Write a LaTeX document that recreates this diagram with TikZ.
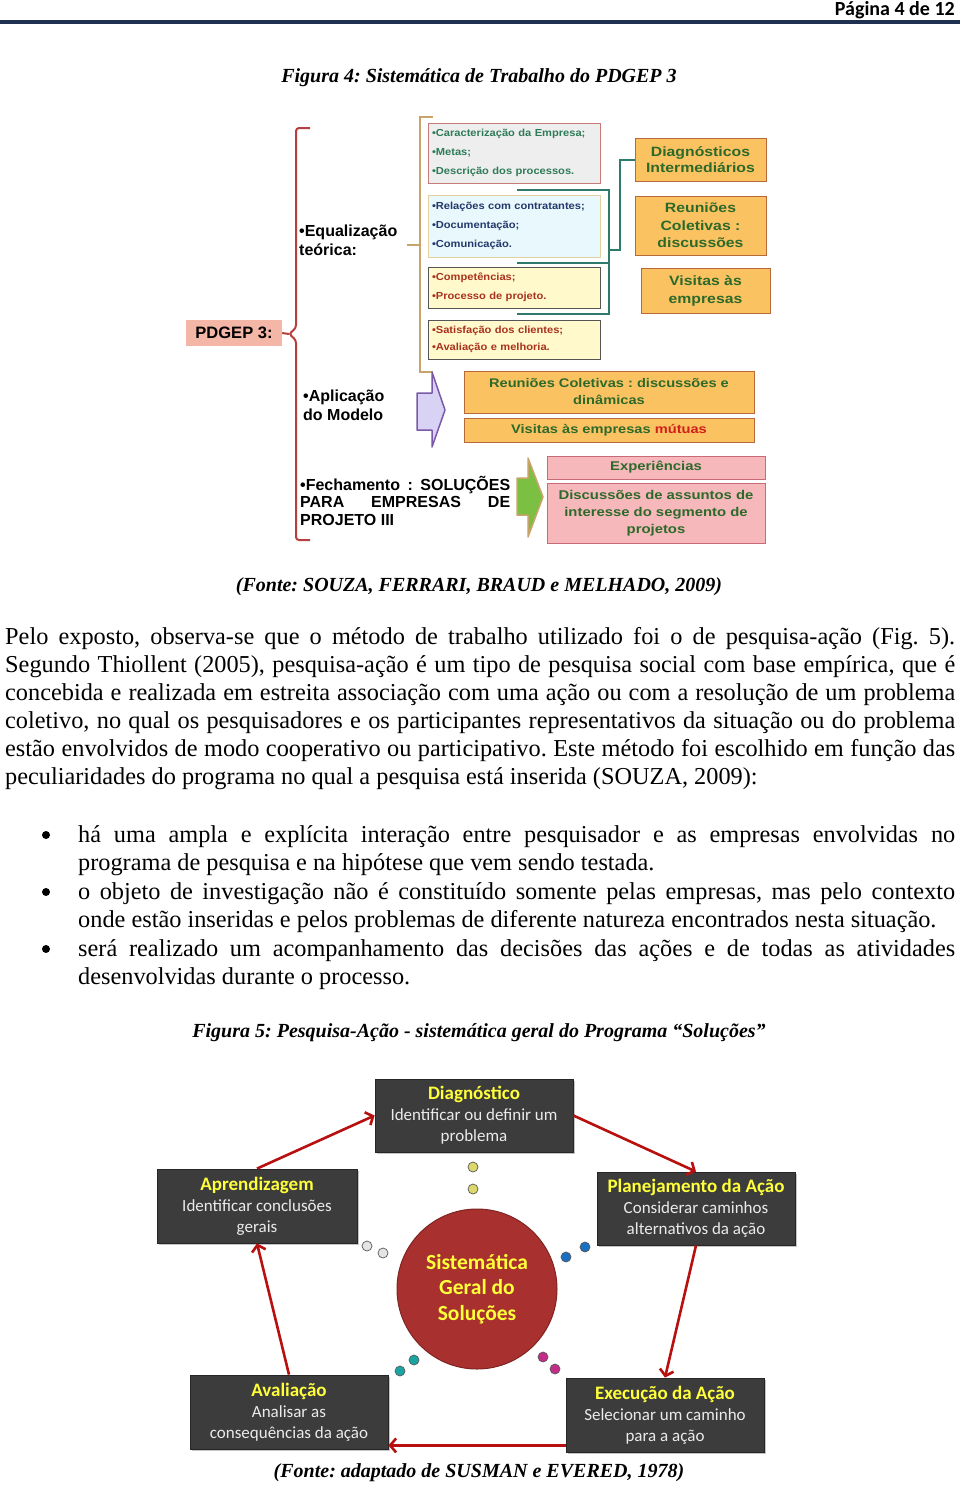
\documentclass[tikz,border=0pt]{standalone}
\usepackage{fontspec}
\setmainfont{Liberation Serif}
\newfontfamily\arialf{Liberation Sans}
\newfontfamily\arialw[FakeStretch=1.17]{Liberation Sans}
\newfontfamily\arials[FakeStretch=1.09]{Liberation Sans}
\newfontfamily\calib{Carlito}
\usetikzlibrary{arrows.meta,calc,shadows}
\newcommand\fs[2]{\fontsize{#1}{#2}\selectfont}
\definecolor{navyline}{HTML}{1F3050}
\definecolor{redbr}{HTML}{B5403F}
\definecolor{tanbr}{HTML}{C9A46A}
\definecolor{tealc}{HTML}{2F7A6C}
\definecolor{boxafill}{HTML}{EEEEEE}
\definecolor{boxadraw}{HTML}{C77B7B}
\definecolor{boxatext}{HTML}{2E7B58}
\definecolor{boxbfill}{HTML}{E8F8FC}
\definecolor{boxbdraw}{HTML}{E0D0A0}
\definecolor{boxbtext}{HTML}{23386B}
\definecolor{yelfill}{HTML}{FFF9CC}
\definecolor{yeldraw}{HTML}{555555}
\definecolor{redtext}{HTML}{A8321E}
\definecolor{orfill}{HTML}{FBC262}
\definecolor{ordraw}{HTML}{B8693A}
\definecolor{gtext}{HTML}{2D6A2A}
\definecolor{mred}{HTML}{D0201A}
\definecolor{pinkfill}{HTML}{F7B8BC}
\definecolor{pinkdraw}{HTML}{C86A78}
\definecolor{salmon}{HTML}{F4B6A6}
\definecolor{lav}{HTML}{D8D2F4}
\definecolor{purp}{HTML}{7A5AA8}
\definecolor{grn}{HTML}{7CC043}
\definecolor{darkbox}{HTML}{3C3C3C}
\definecolor{ytitle}{HTML}{FFFF3A}
\definecolor{arrred}{HTML}{B80F0F}
\definecolor{circ}{HTML}{A8302E}
\definecolor{dotyel}{HTML}{DCD86C}
\definecolor{dotwht}{HTML}{E4E4E4}
\definecolor{dotblu}{HTML}{1B6FC0}
\definecolor{dottea}{HTML}{1AA5A5}
\definecolor{dotmag}{HTML}{C42C8A}
\tikzset{
  capt/.style={inner sep=0pt, font=\bfseries\itshape\fs{20}{24}},
  body/.style={anchor=base west, inner sep=0pt, font=\fs{24.3}{28}},
  bul/.style={circle, fill=black, minimum size=8pt, inner sep=0pt},
  smallbox/.style={draw, line width=0.8pt, minimum width=172pt, text width=164pt, align=left, inner xsep=4pt, inner ysep=0pt, font=\arials\bfseries\fs{10.2}{19}},
  orbox/.style={fill=orfill, draw=ordraw, line width=1pt, text=gtext, align=center, inner sep=0pt, font=\arialw\bfseries\fs{13.5}{17.5}},
  apbox/.style={fill=orfill, draw=ordraw, line width=1pt, text=gtext, align=center, inner sep=0pt, minimum width=290pt, font=\arialw\bfseries\fs{12.5}{17}},
  pkbox/.style={fill=pinkfill, draw=pinkdraw, line width=1pt, text=gtext, align=center, inner sep=0pt, minimum width=218pt, font=\arialw\bfseries\fs{12.7}{17}},
  lbl/.style={inner sep=0pt, align=left, font=\arialf\bfseries\fs{16}{19}},
  dbox/.style={fill=darkbox, draw=black!85, line width=0.8pt, minimum width=198pt, minimum height=73pt, align=center, text=white!92!black, inner sep=0pt, font=\calib\fs{17}{21}, drop shadow={opacity=0.45, shadow xshift=2pt, shadow yshift=-2pt}},
  dot/.style={circle, minimum size=10pt, inner sep=0pt, draw=black!65, line width=0.7pt},
  arr/.style={draw=arrred, line width=2.6pt, -{Straight Barb[length=6pt,width=14pt]}},
}
\newcommand\ttl[1]{{\fs{19}{21}\bfseries\color{ytitle}#1}}
\frenchspacing
\begin{document}
\begin{tikzpicture}[x=1pt,y=-1pt]
\path[use as bounding box, fill=white] (0,0) rectangle (960,1486);
% header
\node[anchor=base east, inner sep=0pt, font=\calib\bfseries\fs{20}{24}] (pg) at (955,15) {Página 4 de 12};
\draw[navyline, line width=3.2pt] (0,22) -- (960,22);
\node[capt] (cap4) at (479,78) {Figura 4: Sistemática de Trabalho do PDGEP 3};

% ===== Figure 4 =====
\coordinate (notch) at (289,334);
\draw[redbr, line width=2pt, rounded corners=3pt] (310,128) -- (296,128) -- (296,328) -- (notch) -- (296,340) -- (296,540) -- (310,540);
\coordinate (tanmid) at (420,245);
\coordinate (tanstub) at (407,245);
\draw[tanbr, line width=2pt] (433,117) -- (420,117) -- (420,372) -- (433,372);
\draw[tanbr, line width=2pt] (tanstub) -- (tanmid);
\draw[tealc, line width=2pt] (517,190) -- (609,190) -- (609,314) -- (517,314);
\draw[tealc, line width=2pt] (517,263) -- (609,263);

\node[fill=salmon, minimum width=96pt, minimum height=26pt, inner sep=0pt, font=\arialf\bfseries\fs{16.5}{20}] (pdgep) at (234,333) {PDGEP 3:};
\draw[redbr, line width=2pt] (pdgep.east) -- (notch);

\node[smallbox, fill=boxafill, draw=boxadraw, minimum height=60pt, text=boxatext] (ba) at (514,153) {•Caracterização da Empresa;\\•Metas;\\•Descrição dos processos.};
\node[smallbox, fill=boxbfill, draw=boxbdraw, minimum height=62pt, text=boxbtext] (bb) at (514,226) {•Relações com contratantes;\\•Documentação;\\•Comunicação.};
\node[smallbox, fill=yelfill, draw=yeldraw, minimum height=41pt, text=redtext] (bc) at (514,287.5) {•Competências;\\•Processo de projeto.};
\node[smallbox, fill=yelfill, draw=yeldraw, minimum height=39pt, text=redtext, font=\arials\bfseries\fs{10.2}{17.5}] (bd) at (514,339.5) {•Satisfação dos clientes;\\•Avaliação e melhoria.};

\node[orbox, minimum width=131pt, minimum height=43pt, font=\arialw\bfseries\fs{13.5}{16.5}] (diag1) at (700.5,159.5) {Diagnósticos\\Intermediários};
\node[orbox, minimum width=131pt, minimum height=59pt] (reun1) at (700.5,225.5) {Reuniões\\Coletivas :\\discussões};
\node[orbox, minimum width=129pt, minimum height=45pt, font=\arialw\bfseries\fs{13.5}{18}] (vis1) at (705.5,290.5) {Visitas às\\empresas};
\draw[tealc, line width=2pt] (609,250) -- (620,250) -- (620,159.5) -- (diag1.west);

\node[lbl, anchor=west] (eq) at (299,240) {•Equalização\\teórica:};
\node[lbl, anchor=west] (ap) at (303,405.5) {•Aplicação\\do Modelo};
\node[lbl, anchor=west, font=\arialf\bfseries\fs{16}{17.5}] (fe) at (300,500.5) {\makebox[210pt][s]{•Fechamento : SOLUÇÕES}\\\makebox[210pt][s]{PARA EMPRESAS DE}\\PROJETO III};

\draw[fill=lav, draw=purp, line width=1.5pt, line join=round] (417,393) -- (432,393) -- (432,372) -- (445,410) -- (432,447) -- (432,430) -- (417,430) -- cycle;
\draw[fill=grn, draw=tanbr, line width=1.5pt, line join=round] (517,478) -- (528,478) -- (528,458) -- (543,497) -- (528,537) -- (528,515) -- (517,515) -- cycle;

\node[apbox, minimum height=42pt] (reun2) at (609,392) {Reuniões Coletivas : discussões e\\dinâmicas};
\node[apbox, minimum height=24pt] (vis2) at (609,430) {Visitas às empresas \textcolor{mred}{mútuas}};
\node[pkbox, minimum height=23pt] (exp) at (656,467.5) {Experiências};
\node[pkbox, minimum height=60pt] (disc) at (656,513) {Discussões de assuntos de\\interesse do segmento de\\projetos};

\node[capt] (fonte4) at (479,587) {(Fonte: SOUZA, FERRARI, BRAUD e MELHADO, 2009)};

% ===== body text =====
\node[body] (p1) at (5,644) {\makebox[950pt][s]{Pelo exposto, observa-se que o método de trabalho utilizado foi o de pesquisa-ação (Fig. 5).}};
\node[body] (p2) at (5,672) {\makebox[950pt][s]{Segundo Thiollent (2005), pesquisa-ação é um tipo de pesquisa social com base empírica, que é}};
\node[body] (p3) at (5,700) {\makebox[950pt][s]{concebida e realizada em estreita associação com uma ação ou com a resolução de um problema}};
\node[body] (p4) at (5,728) {\makebox[950pt][s]{coletivo, no qual os pesquisadores e os participantes representativos da situação ou do problema}};
\node[body] (p5) at (5,756) {\makebox[950pt][s]{estão envolvidos de modo cooperativo ou participativo. Este método foi escolhido em função das}};
\node[body] (p6) at (5,784) {peculiaridades do programa no qual a pesquisa está inserida (SOUZA, 2009):};

\node[bul] (d1) at (46,835) {};
\node[body] (q1) at (78,842) {\makebox[877pt][s]{há uma ampla e explícita interação entre pesquisador e as empresas envolvidas no}};
\node[body] (q2) at (78,870) {programa de pesquisa e na hipótese que vem sendo testada.};
\node[bul] (d2) at (46,892) {};
\node[body] (q3) at (78,899) {\makebox[877pt][s]{o objeto de investigação não é constituído somente pelas empresas, mas pelo contexto}};
\node[body] (q4) at (78,927) {onde estão inseridas e pelos problemas de diferente natureza encontrados nesta situação.};
\node[bul] (d3) at (46,949) {};
\node[body] (q5) at (78,956) {\makebox[877pt][s]{será realizado um acompanhamento das decisões das ações e de todas as atividades}};
\node[body] (q6) at (78,984) {desenvolvidas durante o processo.};

\node[capt] (cap5) at (479,1033) {Figura 5: Pesquisa-Ação - sistemática geral do Programa “Soluções”};

% ===== Figure 5 =====
\node[dbox] (diag) at (474,1115.5) {\ttl{Diagnóstico}\\Identificar ou definir um\\problema};
\node[dbox, minimum width=200pt, minimum height=74pt] (apr) at (257,1206) {\ttl{Aprendizagem}\\Identificar conclusões\\gerais};
\node[dbox] (plan) at (696,1208.5) {\ttl{Planejamento da Ação}\\Considerar caminhos\\alternativos da ação};
\node[dbox, minimum height=74pt] (aval) at (289,1412) {\ttl{Avaliação}\\Analisar as\\consequências da ação};
\node[dbox, minimum height=74pt] (exec) at (665,1415) {\ttl{Execução da Ação}\\Selecionar um caminho\\para a ação};

\node[circle, fill=circ, draw=circ!75!black, line width=1pt, minimum size=160pt, inner sep=0pt, align=center, text=ytitle, font=\calib\bfseries\fs{21.5}{25.5}] (cen) at (477,1289) {Sistemática\\Geral do\\Soluções};

\node[dot, fill=dotyel] (y1) at (473,1167) {};
\node[dot, fill=dotyel] (y2) at (473,1189) {};
\node[dot, fill=dotwht] (w1) at (367,1246) {};
\node[dot, fill=dotwht] (w2) at (383,1253) {};
\node[dot, fill=dotblu] (u1) at (566,1257) {};
\node[dot, fill=dotblu] (u2) at (585,1247) {};
\node[dot, fill=dottea] (t1) at (400,1371) {};
\node[dot, fill=dottea] (t2) at (414,1360) {};
\node[dot, fill=dotmag] (m1) at (543,1357) {};
\node[dot, fill=dotmag] (m2) at (555,1369) {};

\draw[arr] (apr.north) -- (diag.west);
\draw[arr] (diag.east) -- (plan.north);
\draw[arr] (plan.south) -- (exec.north);
\coordinate (ea) at ($(exec.south west)+(0,-7)$);
\draw[arr] (ea) -- (ea -| aval.east);
\draw[arr] (aval.north) -- (apr.south);

\node[capt] (fonte5) at (479,1473) {(Fonte: adaptado de SUSMAN e EVERED, 1978)};
\end{tikzpicture}
\end{document}
